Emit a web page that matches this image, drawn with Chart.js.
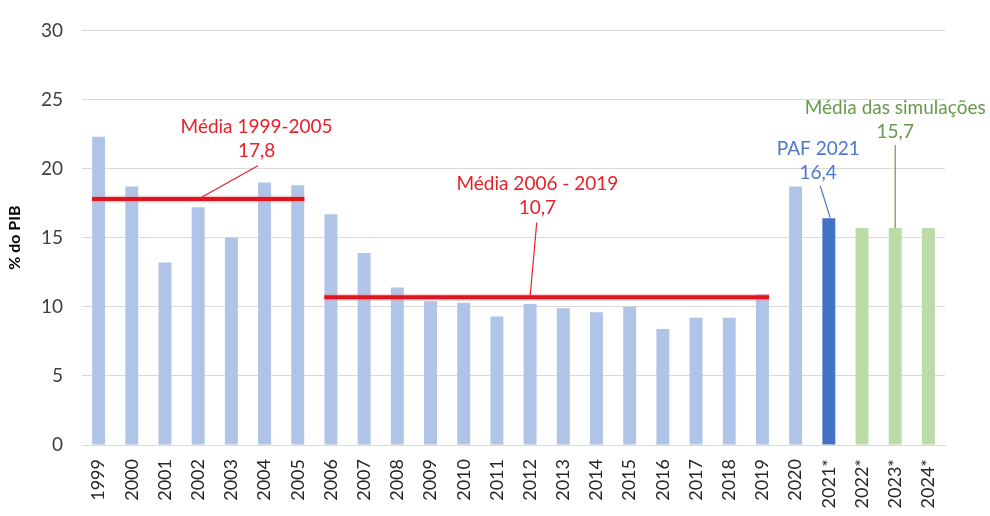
<!DOCTYPE html>
<html>
<head>
<meta charset="utf-8">
<script src="https://cdn.jsdelivr.net/npm/chart.js@4/dist/chart.umd.min.js"></script>
<style>
  html, body { margin: 0; padding: 0; background: #fff; }
  #wrap { width: 990px; height: 516px; }
</style>
</head>
<body>
<div id="wrap"><canvas id="chart" width="990" height="516"></canvas></div>
<script>
// Categories and values (% do PIB)
const years = ['1999', '2000', '2001', '2002', '2003', '2004', '2005', '2006', '2007', '2008',
    '2009', '2010', '2011', '2012', '2013', '2014', '2015', '2016', '2017', '2018',
    '2019', '2020', '2021*', '2022*', '2023*', '2024*'];
const values = [22.3, 18.7, 13.2, 17.2, 15.0, 19.0, 18.8, 16.7, 13.9, 11.4,
    10.4, 10.3, 9.3, 10.2, 9.9, 9.6, 10.0, 8.4, 9.2, 9.2,
    10.9, 18.7, 16.4, 15.7, 15.7, 15.7];
const yTicks = [0, 5, 10, 15, 20, 25, 30];

// Average periods
const avgFrom = ['1999', '2006'];
const avgTo = ['2005', '2019'];
const avgValues = [17.8, 10.7];

// Callout labels
const calloutTitles = ['Média 1999-2005', 'Média 2006 - 2019', 'PAF 2021', 'Média das simulações'];
const calloutValues = ['17,8', '10,7', '16,4', '15,7'];

const colHist = '#b0c4e8';
const colPaf = '#4472c4';
const colSim = '#bcdba6';
const barColors = years.map(y => y === '2021*' ? colPaf : (y.endsWith('*') ? colSim : colHist));

// Callout placement (styles only): text anchor in category/value units and leader ends
const calloutStyle = [
    { color: '#e8202a', textAt: [4.76, 23.0], lineFrom: [4.8, 20.2], lineTo: [3.05, 17.85] },
    { color: '#e8202a', textAt: [13.22, 18.9], lineFrom: [13.2, 16.1], lineTo: [13.0, 10.75] },
    { color: '#4a78cc', textAt: [21.68, 21.45], lineFrom: [21.74, 18.75], lineTo: [22.04, 16.45] },
    { color: '#67994a', textAt: [24.0, 24.4], lineFrom: [24.0, 21.7], lineTo: [24.0, 15.7] }
];

const annotations = {
    id: 'annotations',
    afterDatasetsDraw(chart) {
        const { ctx, scales: { x, y } } = chart;
        const step = x.getPixelForValue(1) - x.getPixelForValue(0);
        const xAt = v => x.getPixelForValue(0) + v * step;

        // average lines
        ctx.save();
        avgValues.forEach((v, i) => {
            const x0 = x.getPixelForValue(years.indexOf(avgFrom[i])) - step * 0.2;
            const x1 = x.getPixelForValue(years.indexOf(avgTo[i])) + step * 0.2;
            const py = y.getPixelForValue(v);
            ctx.strokeStyle = 'rgba(255,120,120,0.35)';
            ctx.lineWidth = 7;
            ctx.beginPath(); ctx.moveTo(x0, py); ctx.lineTo(x1, py); ctx.stroke();
            ctx.strokeStyle = '#e0141e';
            ctx.lineWidth = 4;
            ctx.beginPath(); ctx.moveTo(x0, py); ctx.lineTo(x1, py); ctx.stroke();
        });

        // callouts
        ctx.font = '19px Lato, "Open Sans", sans-serif';
        ctx.textAlign = 'center';
        ctx.textBaseline = 'middle';
        calloutTitles.forEach((t, i) => {
            const s = calloutStyle[i];
            const tx = xAt(s.textAt[0]);
            const ty = y.getPixelForValue(s.textAt[1]);
            ctx.fillStyle = s.color;
            ctx.fillText(t, tx, ty);
            ctx.fillText(calloutValues[i], tx, ty + 24);
            ctx.strokeStyle = s.color;
            ctx.lineWidth = 1.2;
            ctx.beginPath();
            ctx.moveTo(xAt(s.lineFrom[0]), y.getPixelForValue(s.lineFrom[1]));
            ctx.lineTo(xAt(s.lineTo[0]), y.getPixelForValue(s.lineTo[1]));
            ctx.stroke();
        });
        ctx.restore();
    }
};

new Chart(document.getElementById('chart'), {
    type: 'bar',
    data: {
        labels: years,
        datasets: [{
            data: values,
            backgroundColor: barColors,
            barPercentage: 0.39,
            categoryPercentage: 1.0
        }]
    },
    options: {
        responsive: false,
        animation: false,
        layout: { padding: { top: 20, right: 45, left: 0, bottom: 0 } },
        plugins: { legend: { display: false }, tooltip: { enabled: false } },
        scales: {
            x: {
                grid: { display: false, drawTicks: false },
                border: { display: true, color: '#d9d9d9' },
                ticks: {
                    color: '#262626',
                    font: { size: 18, family: 'Lato, "Open Sans", sans-serif' },
                    maxRotation: 90, minRotation: 90, padding: 14, autoSkip: false
                },
                afterFit(axis) { axis.height = 71; }
            },
            y: {
                min: 0, max: 30,
                afterBuildTicks(axis) { axis.ticks = yTicks.map(v => ({ value: v })); },
                grid: { color: '#d9d9d9', drawTicks: false },
                border: { display: false },
                ticks: {
                    color: '#404040',
                    font: { size: 19, family: 'Lato, "Open Sans", sans-serif' },
                    padding: 19
                },
                title: {
                    display: true, text: '% do PIB', color: '#000',
                    font: { size: 16, weight: 'bold', family: 'Lato, "Open Sans", sans-serif' },
                    padding: { top: 5, bottom: 0 }
                },
                afterFit(axis) { axis.width = 82; }
            }
        }
    },
    plugins: [annotations]
});
</script>
</body>
</html>
